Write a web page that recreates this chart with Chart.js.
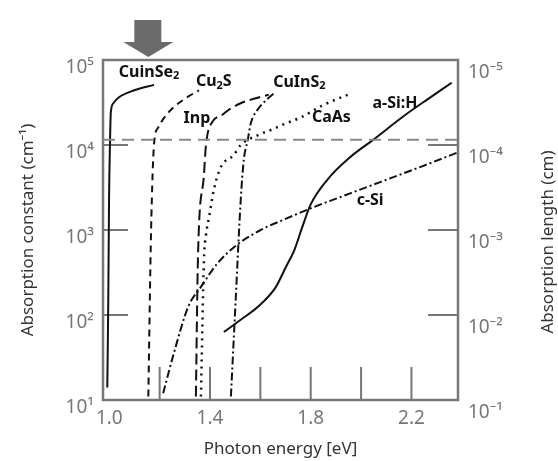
<!DOCTYPE html>
<html>
<head>
<meta charset="utf-8">
<script src="https://cdn.jsdelivr.net/npm/chart.js@4.4.0/dist/chart.umd.min.js"></script>
<style>
html, body { margin: 0; padding: 0; background: #fff; }
#wrap { position: relative; width: 558px; height: 461px; }
</style>
</head>
<body>
<div id="wrap"><canvas id="absChart"></canvas></div>
<script>
// photon energy [eV] and absorption constant [cm-1]
var cuInSe2E = [0.992, 0.996, 0.999, 1.003, 1.006, 1.016, 1.036, 1.099, 1.178];
var cuInSe2A = [14, 150, 2250, 11400, 24000, 31000, 36000, 44000, 51000];

var cu2SE = [1.155, 1.166, 1.178, 1.194, 1.218, 1.257, 1.313, 1.356];
var cu2SA = [11, 1000, 10500, 16000, 21000, 28000, 37000, 44000];

var inpE = [1.344, 1.352, 1.376, 1.384, 1.411, 1.443, 1.475, 1.522, 1.574, 1.633];
var inpA = [11, 450, 4500, 10000, 19000, 22000, 26000, 31000, 35000, 39000];

var gaAsE = [1.364, 1.376, 1.384, 1.396, 1.415, 1.443, 1.494, 1.522, 1.589, 1.653, 1.692, 1.759, 1.850, 1.965];
var gaAsA = [11, 450, 870, 1400, 2950, 5500, 7600, 10000, 13000, 15500, 17500, 21000, 29500, 41000];

var cuInS2E = [1.483, 1.502, 1.522, 1.534, 1.550, 1.562, 1.589, 1.629, 1.660];
var cuInS2A = [11, 150, 2250, 6600, 11500, 18000, 26000, 35000, 42000];

var cSiE = [1.214, 1.257, 1.313, 1.364, 1.431, 1.510, 1.601, 1.700, 1.800, 1.957, 2.115, 2.245, 2.385];
var cSiA = [12, 36, 124, 214, 410, 680, 1000, 1350, 1800, 2700, 4050, 5650, 8200];

var aSiE = [1.455, 1.522, 1.589, 1.660, 1.700, 1.735, 1.765, 1.800, 1.866, 1.957, 2.048, 2.166, 2.261, 2.360];
var aSiA = [63, 88, 124, 210, 360, 580, 1050, 2000, 3900, 7200, 11500, 21500, 34000, 54000];

// horizontal dashed reference level
var refE = [0.975, 2.385];
var refA = [11500, 11500];

// axis ticks
var xTickLabels = [1.0, 1.4, 1.8, 2.2];
var xInnerTicks = [1.2, 1.4, 1.6, 1.8, 2.0, 2.2];
var yTicks = [1e1, 1e2, 1e3, 1e4, 1e5];
var yInnerTicks = [1e2, 1e3, 1e4];
var y2Ticks = [1e-5, 1e-4, 1e-3, 1e-2, 1e-1];
var y2InnerTicks = [1e-4, 1e-3, 1e-2];

// curve names, "_" marks a subscript char
var curveNames = ['CuinSe_2', 'Cu_2S', 'Inp', 'CuInS_2', 'CaAs', 'a-Si:H', 'c-Si'];
var nameE = [1.158, 1.415, 1.348, 1.755, 1.882, 2.135, 2.036];
var nameA = [72000, 56000, 20500, 55000, 21000, 31000, 2200];

function pts(xs, ys) {
	var out = [];
	for (var i = 0; i < xs.length; i++) out.push({ x: xs[i], y: ys[i] });
	return out;
}

var supMap = { '0': '⁰', '1': '¹', '2': '²', '3': '³', '4': '⁴', '5': '⁵', '-': '⁻' };
function pow10Label(v) {
	var e = String(Math.round(Math.log10(v)));
	var s = '';
	for (var i = 0; i < e.length; i++) s += supMap[e[i]];
	return '10' + s;
}

function line(label, xs, ys, dash, color, width) {
	return {
		label: label,
		data: pts(xs, ys),
		borderColor: color || '#111',
		borderWidth: width || 2,
		borderDash: dash,
		pointRadius: 0,
		fill: false,
		cubicInterpolationMode: 'monotone'
	};
}

var frameAndTicks = {
	id: 'frameAndTicks',
	beforeDatasetsDraw(chart) {
		var ctx = chart.ctx, a = chart.chartArea;
		var x = chart.scales.x, y = chart.scales.y, y2 = chart.scales.y2;
		ctx.save();
		ctx.strokeStyle = '#777';
		ctx.lineWidth = 2;
		xInnerTicks.forEach(function (v) {
			var px = x.getPixelForValue(v);
			ctx.beginPath(); ctx.moveTo(px, a.bottom); ctx.lineTo(px, a.bottom - 33); ctx.stroke();
		});
		yInnerTicks.forEach(function (v) {
			var py = y.getPixelForValue(v);
			ctx.beginPath(); ctx.moveTo(a.left, py); ctx.lineTo(a.left + 25, py); ctx.stroke();
		});
		y2InnerTicks.forEach(function (v) {
			var py = y2.getPixelForValue(v);
			ctx.beginPath(); ctx.moveTo(a.right, py); ctx.lineTo(a.right - 30, py); ctx.stroke();
		});
		ctx.lineWidth = 2.5;
		ctx.strokeRect(a.left, a.top, a.right - a.left, a.bottom - a.top);
		ctx.restore();
	},
	afterDatasetsDraw(chart) {
		var ctx = chart.ctx, a = chart.chartArea;
		var x = chart.scales.x, y = chart.scales.y;
		ctx.save();
		// the arrow above the plot
		var cx = x.getPixelForValue(1.155);
		ctx.fillStyle = '#6b6b6b';
		ctx.beginPath();
		ctx.moveTo(cx - 14, a.top - 40);
		ctx.lineTo(cx + 13, a.top - 40);
		ctx.lineTo(cx + 13, a.top - 18);
		ctx.lineTo(cx + 25, a.top - 18);
		ctx.lineTo(cx, a.top - 3);
		ctx.lineTo(cx - 25, a.top - 18);
		ctx.lineTo(cx - 14, a.top - 18);
		ctx.closePath();
		ctx.fill();
		// curve names
		ctx.fillStyle = '#111';
		ctx.textBaseline = 'middle';
		curveNames.forEach(function (name, i) {
			var parts = [];
			for (var k = 0; k < name.length; k++) {
				if (name[k] === '_') { parts.push({ t: name[k + 1], sub: true }); k++; }
				else parts.push({ t: name[k], sub: false });
			}
			var big = 'bold 16px "Noto Sans"', small = 'bold 11px "Noto Sans"';
			var w = 0;
			parts.forEach(function (p) { ctx.font = p.sub ? small : big; w += ctx.measureText(p.t).width; });
			var px = x.getPixelForValue(nameE[i]) - w / 2;
			var py = y.getPixelForValue(nameA[i]);
			ctx.textAlign = 'left';
			parts.forEach(function (p) {
				ctx.font = p.sub ? small : big;
				ctx.fillText(p.t, px, p.sub ? py + 4 : py);
				px += ctx.measureText(p.t).width;
			});
		});
		// right axis title reads bottom to top, like the left one
		ctx.translate(a.right + 90, (a.top + a.bottom) / 2 + 12);
		ctx.rotate(-Math.PI / 2);
		ctx.font = '17px "Noto Sans"';
		ctx.fillStyle = '#333';
		ctx.textAlign = 'center';
		ctx.fillText('Absorption length (cm)', 0, 0);
		ctx.restore();
	}
};

var tickFont = { family: 'Noto Sans', size: 19 };
var titleFont = { family: 'Noto Sans', size: 17 };

new Chart(document.getElementById('absChart'), {
	type: 'line',
	data: {
		datasets: [
			line('ref', refE, refA, [12, 7], '#8a8a8a', 2),
			line('CuInSe2', cuInSe2E, cuInSe2A, []),
			line('Cu2S', cu2SE, cu2SA, [7, 5]),
			line('InP', inpE, inpA, [11, 5]),
			line('GaAs', gaAsE, gaAsA, [2, 5], '#111', 2.5),
			line('CuInS2', cuInS2E, cuInS2A, [8, 3, 2, 3]),
			line('c-Si', cSiE, cSiA, [8, 3, 2, 3]),
			line('a-Si:H', aSiE, aSiA, [])
		]
	},
	options: {
		responsive: true,
		maintainAspectRatio: false,
		animation: false,
		layout: { padding: { top: 60, left: 0, right: 0, bottom: 0 } },
		plugins: { legend: { display: false }, tooltip: { enabled: false } },
		scales: {
			x: {
				type: 'linear',
				min: 0.975,
				max: 2.385,
				grid: { display: false, drawTicks: false },
				border: { display: false },
				afterBuildTicks: function (s) { s.ticks = xTickLabels.map(function (v) { return { value: v }; }); },
				afterFit: function (s) { s.height = 61; },
				ticks: {
					font: tickFont, color: '#777', padding: 7, maxRotation: 0, autoSkip: false,
					callback: function (v) { return Number(v).toFixed(1); }
				},
				title: { display: true, text: 'Photon energy [eV]', font: titleFont, color: '#333', padding: { bottom: 2 } }
			},
			y: {
				type: 'logarithmic',
				position: 'left',
				min: 10,
				max: 1e5,
				grid: { display: false, drawTicks: false },
				border: { display: false },
				afterBuildTicks: function (s) { s.ticks = yTicks.map(function (v) { return { value: v }; }); },
				afterFit: function (s) { s.width = 103; },
				ticks: {
					font: tickFont, color: '#777', padding: 9, labelOffset: 8, autoSkip: false,
					callback: function (v) { return pow10Label(v); }
				},
				title: { display: true, text: 'Absorption constant (cm⁻¹)', font: titleFont, color: '#333', padding: { top: 18 } }
			},
			y2: {
				type: 'logarithmic',
				position: 'right',
				reverse: true,
				min: 1e-5,
				max: 1e-1,
				grid: { display: false, drawTicks: false },
				border: { display: false },
				afterBuildTicks: function (s) { s.ticks = y2Ticks.map(function (v) { return { value: v }; }); },
				afterFit: function (s) { s.width = 100; },
				ticks: {
					font: tickFont, color: '#777', padding: 10, labelOffset: 13, autoSkip: false,
					callback: function (v) { return pow10Label(v); }
				},
				title: { display: false }
			}
		}
	},
	plugins: [frameAndTicks]
});
</script>
</body>
</html>
